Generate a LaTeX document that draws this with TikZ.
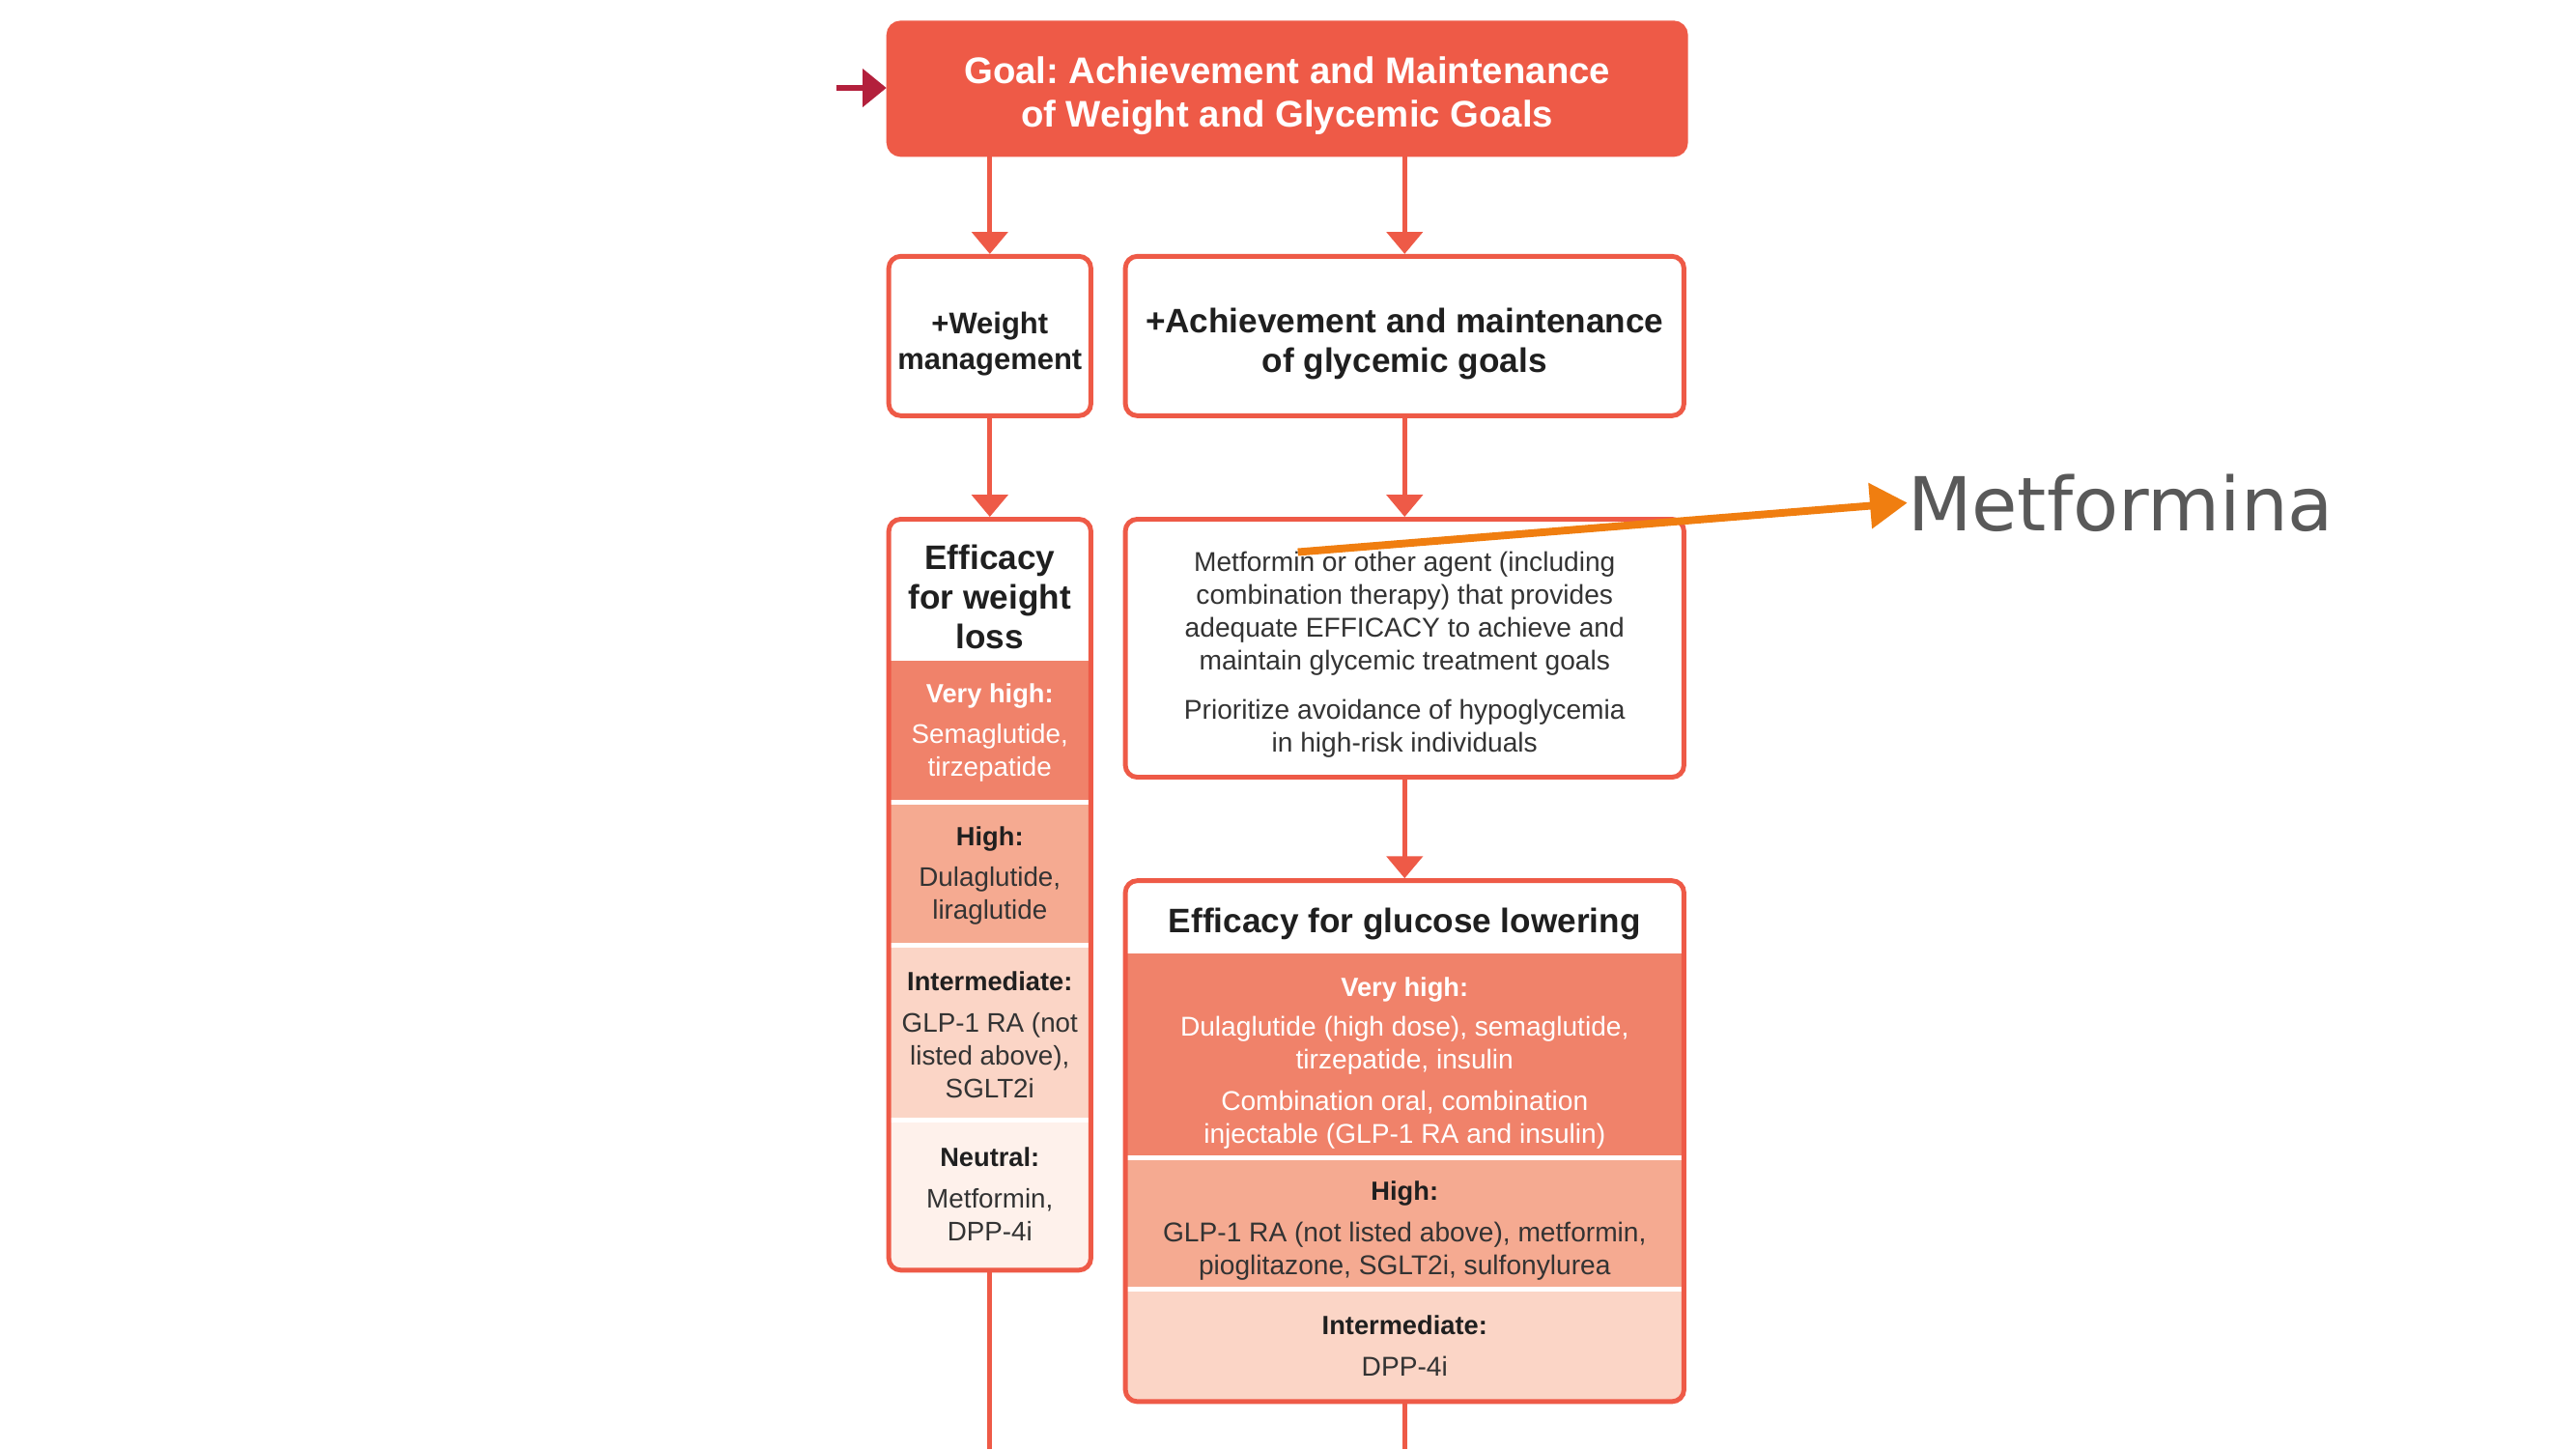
\documentclass[tikz,border=0pt]{standalone}
\usepackage{fontspec}
\setmainfont{Liberation Sans}
\newfontfamily\dejavu{DejaVu Sans}
\usetikzlibrary{arrows.meta,fit}
\frenchspacing
\definecolor{cRed}{HTML}{EE5A47}
\definecolor{cDeep}{HTML}{B3203C}
\definecolor{cOrange}{HTML}{F07E10}
\definecolor{cVH}{HTML}{F0826A}
\definecolor{cH}{HTML}{F5AA91}
\definecolor{cI}{HTML}{FBD5C6}
\definecolor{cN}{HTML}{FEF1EB}
\definecolor{cDark}{HTML}{1F1F1F}
\definecolor{cBody}{HTML}{333333}
\definecolor{cGray}{HTML}{595959}
\tikzset{
  frame/.style={draw=cRed, line width=2.8pt, rounded corners=7pt, inner sep=0pt},
  goalbox/.style={frame, fill=cRed},
  arr/.style={draw=cRed, line width=2.8pt, -{Triangle[width=21pt,length=13pt]}},
  plainline/.style={draw=cRed, line width=2.8pt},
  darr/.style={draw=cDeep, line width=3pt, -{Triangle[width=22pt,length=14pt]}},
  oarr/.style={draw=cOrange, line width=4.5pt, -{Triangle[width=26pt,length=22pt]}},
  txt/.style={align=center, inner sep=0pt, text=cDark},
  goaltxt/.style={txt, text=white, font=\bfseries\fontsize{21.8pt}{26pt}\selectfont},
  hdrtxt/.style={txt, font=\bfseries\fontsize{20pt}{23.1pt}\selectfont},
  wmtxt/.style={txt, font=\bfseries\fontsize{17.6pt}{21.2pt}\selectfont},
  lbl/.style={txt, font=\bfseries\fontsize{15.5pt}{19.3pt}\selectfont},
  lblw/.style={lbl, text=white},
  body/.style={txt, text=cBody, font=\fontsize{15.8pt}{19.3pt}\selectfont},
  bodyw/.style={body, text=white},
  rbody/.style={body, font=\fontsize{16pt}{19.3pt}\selectfont},
  rbodyw/.style={rbody, text=white},
}
\begin{document}
\begin{tikzpicture}[x=0.034cm,y=-0.034cm]
\useasboundingbox[fill=white] (0,0) rectangle (1568,882);

% band fills
\begin{scope}
  \clip[rounded corners=7pt] (541,316) rectangle (664,773);
  \fill[cVH] (541,402) rectangle (664,487);
  \fill[cH] (541,490) rectangle (664,574);
  \fill[cI] (541,577) rectangle (664,680);
  \fill[cN] (541,683) rectangle (664,773);
\end{scope}
\begin{scope}
  \clip[rounded corners=7pt] (685,536) rectangle (1025,853);
  \fill[cVH] (685,580) rectangle (1025,703);
  \fill[cH] (685,706) rectangle (1025,783);
  \fill[cI] (685,786) rectangle (1025,853);
\end{scope}

% frames
\node[goalbox, fit={(541,14) (1026,94)}] (goal) {};
\node[frame, fit={(541,156) (664,253)}] (wm) {};
\node[frame, fit={(685,156) (1025,253)}] (ach) {};
\node[frame, fit={(541,316) (664,773)}] (wl) {};
\node[frame, fit={(685,316) (1025,473)}] (met) {};
\node[frame, fit={(685,536) (1025,853)}] (gl) {};

% texts
\begin{scope}[yshift=-0.08cm]
\node[goaltxt] (goalt) at (783.5,56) {Goal: Achievement and Maintenance\\of Weight and Glycemic Goals};
\node[wmtxt] (wmt) at (602.5,207) {+Weight\\management};
\node[hdrtxt] (acht) at (855,207) {+Achievement and maintenance\\of glycemic goals};

\node[hdrtxt] (wlh) at (602.5,361) {Efficacy\\for weight\\loss};
\node[lblw] (wl1l) at (602.5,421) {Very high:};
\node[bodyw] (wl1b) at (602.5,456) {Semaglutide,\\tirzepatide};
\node[lbl] (wl2l) at (602.5,508) {High:};
\node[body] (wl2b) at (602.5,543) {Dulaglutide,\\liraglutide};
\node[lbl] (wl3l) at (602.5,595) {Intermediate:};
\node[body] (wl3b) at (602.5,640) {GLP-1 RA (not\\listed above),\\SGLT2i};
\node[lbl] (wl4l) at (602.5,702) {Neutral:};
\node[body] (wl4b) at (602.5,737) {Metformin,\\DPP-4i};

\node[rbody] (met1) at (855,371) {Metformin or other agent (including\\combination therapy) that provides\\adequate EFFICACY to achieve and\\maintain glycemic treatment goals};
\node[rbody] (met2) at (855,441) {Prioritize avoidance of hypoglycemia\\in high-risk individuals};

\node[hdrtxt] (glh) at (855,560) {Efficacy for glucose lowering};
\node[lblw] (gl1l) at (855,600) {Very high:};
\node[rbodyw] (gl1b) at (855,634) {Dulaglutide (high dose), semaglutide,\\tirzepatide, insulin};
\node[rbodyw] (gl1c) at (855,679) {Combination oral, combination\\injectable (GLP-1 RA and insulin)};
\node[lbl] (gl2l) at (855,724) {High:};
\node[rbody] (gl2b) at (855,759) {GLP-1 RA (not listed above), metformin,\\pioglitazone, SGLT2i, sulfonylurea};
\node[lbl] (gl3l) at (855,804) {Intermediate:};
\node[rbody] (gl3b) at (855,829) {DPP-4i};
\end{scope}

% connectors
\draw[arr] (goal.south -| wm.north) -- (wm.north);
\draw[arr] (goal.south -| ach.north) -- (ach.north);
\draw[arr] (wm.south) -- (wl.north);
\draw[arr] (ach.south) -- (met.north);
\draw[arr] (met.south) -- (gl.north);
\coordinate (lend) at (602.5,882);
\coordinate (rend) at (855,882);
\draw[plainline] (wl.south) -- (lend);
\draw[plainline] (gl.south) -- (rend);

\coordinate (din) at (509,53.5);
\draw[darr] (din) -- (din -| goal.west);

% annotation
\node[anchor=west, inner sep=0pt, text=cGray, font=\dejavu\fontsize{43.8pt}{50pt}\selectfont] (metf) at (1161,306) {Metformina};
\coordinate (ostart) at (790,336);
\draw[oarr] (ostart) -- (metf.west);
\end{tikzpicture}
\end{document}
